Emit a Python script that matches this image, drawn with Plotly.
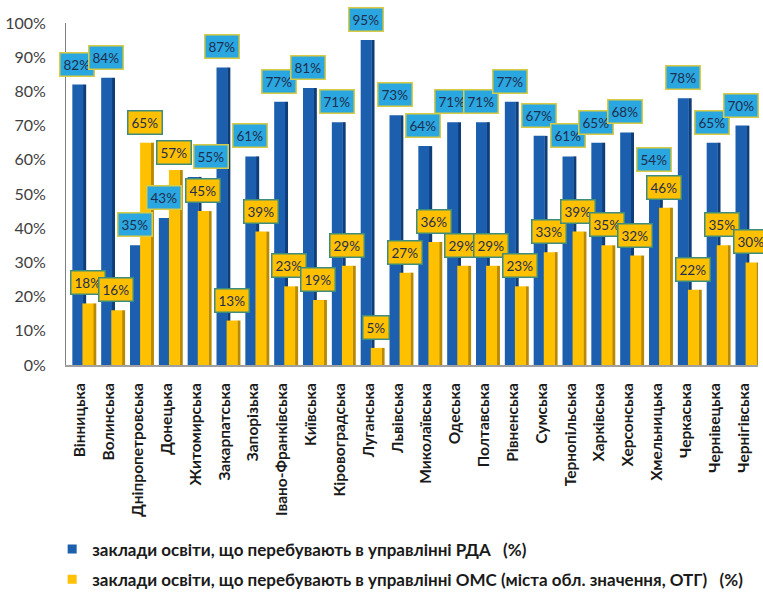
import plotly.graph_objects as go

regions = ["Вінницька", "Волинська", "Дніпропетровська", "Донецька", "Житомирська",
           "Закарпатська", "Запорізька", "Івано-Франківська", "Київська", "Кіровоградська",
           "Луганська", "Львівська", "Миколаївська", "Одеська", "Полтавська", "Рівненська",
           "Сумська", "Тернопільська", "Харківська", "Херсонська", "Хмельницька",
           "Черкаська", "Чернівецька", "Чернігівська"]
rda_pct = [82, 84, 35, 43, 55, 87, 61, 77, 81, 71, 95, 73, 64, 71, 71, 77, 67, 61, 65, 68, 54, 78, 65, 70]
oms_pct = [18, 16, 65, 57, 45, 13, 39, 23, 19, 29, 5, 27, 36, 29, 29, 23, 33, 39, 35, 32, 46, 22, 35, 30]

rda_name = "заклади освіти, що перебувають в управлінні РДА   (%)"
oms_name = "заклади освіти, що перебувають в управлінні ОМС (міста обл. значення, ОТГ)   (%)"

BLUE, BLUE_SIDE = "#1B5FAE", "#0E3D78"
GOLD, GOLD_SIDE = "#FFC000", "#B98A00"
LBL_BLUE, LBL_BLUE_EDGE = "#2AA6E0", "#D8CB45"
LBL_GOLD, LBL_GOLD_EDGE = "#FFC000", "#3E8C7C"

x = list(range(len(regions)))
rda = [v / 100 for v in rda_pct]
oms = [v / 100 for v in oms_pct]

FRONT_W, SIDE_W = 0.38, 0.11
BLUE_OFF, GOLD_OFF = -0.28, 0.07

# pixel nudges for value labels that would otherwise collide
label_nudge = {("rda", 4): (18, 0), ("oms", 3): (0, -3)}

fig = go.Figure()

def column(vals, off, front, side, group):
    # darker right-hand face, then the front face on top of it
    fig.add_bar(x=x, y=vals, offset=off + FRONT_W - 0.01, width=SIDE_W,
                marker=dict(color=side, line=dict(width=0)),
                showlegend=False, hoverinfo="skip", legendgroup=group)
    fig.add_bar(x=x, y=vals, offset=off, width=FRONT_W, showlegend=False,
                marker=dict(color=front, line=dict(width=0)), legendgroup=group)

column(rda, BLUE_OFF, BLUE, BLUE_SIDE, "rda")
column(oms, GOLD_OFF, GOLD, GOLD_SIDE, "oms")

# legend entries with small square keys
for name, color, group in [(rda_name, BLUE, "rda"), (oms_name, GOLD, "oms")]:
    fig.add_scatter(x=[None], y=[None], mode="markers", name=name, legendgroup=group,
                    marker=dict(symbol="square", size=9, color=color))

# value labels in boxes above each column
annotations = []
for group, vals, pcts, off, bg, edge in [
        ("rda", rda, rda_pct, BLUE_OFF, LBL_BLUE, LBL_BLUE_EDGE),
        ("oms", oms, oms_pct, GOLD_OFF, LBL_GOLD, LBL_GOLD_EDGE)]:
    for xi, v, p in zip(x, vals, pcts):
        dx, dy = label_nudge.get((group, xi), (0, 0))
        annotations.append(dict(
            x=xi + off + (FRONT_W + SIDE_W) / 2, y=v, xref="x", yref="y",
            text=f"{p}%", showarrow=False, yanchor="bottom",
            yshift=8 + dy, xshift=-2 + dx,
            bgcolor=bg, bordercolor=edge, borderwidth=1.5, borderpad=3,
            font=dict(family="Lato", size=13.5, color="#1E2E4E")))

fig.update_layout(
    width=763, height=593,
    margin=dict(l=66, r=5, t=23, b=228, autoexpand=False),
    paper_bgcolor="white", plot_bgcolor="white",
    barmode="overlay",
    annotations=annotations,
    xaxis=dict(
        type="linear", range=[-0.5, len(regions) - 0.5],
        tickmode="array", tickvals=x, ticktext=regions, tickangle=-90,
        tickfont=dict(family="Lato", size=15.5, color="#1A1A1A", weight="bold"),
        showgrid=False, zeroline=False, showline=True, linecolor="#A0A0A0", linewidth=2,
        ticks="", ticklen=0, ticklabelstandoff=10),
    yaxis=dict(
        range=[0, 1.0], dtick=0.1, tickformat=".0%",
        tickfont=dict(family="Lato", size=16, color="#404040"),
        showgrid=False, zeroline=False, showline=True, linecolor="#808080", linewidth=1,
        ticks="", ticklabelstandoff=16),
    legend=dict(
        x=-0.02, y=-0.487, xanchor="left", yanchor="top",
        font=dict(family="Lato", size=17, color="#1A1A1A", weight="bold"),
        tracegroupgap=5, bgcolor="rgba(0,0,0,0)", itemwidth=30),
    showlegend=True,
)

fig.write_html("out.html")
